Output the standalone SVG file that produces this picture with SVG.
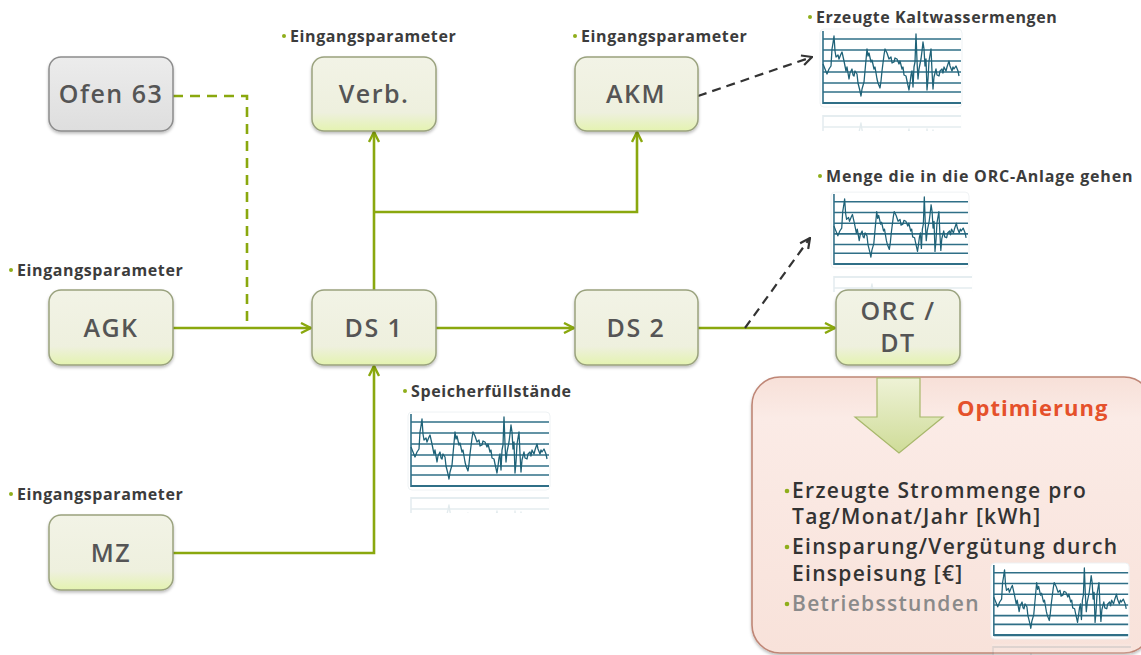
<svg xmlns="http://www.w3.org/2000/svg" xmlns:xlink="http://www.w3.org/1999/xlink" width="1141" height="655" viewBox="0 0 1141 655">
  <defs>
    <style>
      .node rect { stroke-width: 1.5; }
      .box { fill: url(#nodeFill); stroke: #9aa27e; }
      .box-gray { fill: url(#grayFill); stroke: #8c8c8c; }
      .lbl { font-family: "Open Sans", "DejaVu Sans", sans-serif; font-weight: 600; font-size: 25px; fill: #555555; text-anchor: middle; letter-spacing: 1.5px; }
      .cap { font-family: "Open Sans", "DejaVu Sans", sans-serif; font-weight: 700; font-size: 16px; fill: #3c3c3c; letter-spacing: 0.6px; }
      .cap.wide { letter-spacing: 0.8px; }
      .dot { fill: #8fae1b; }
      .flow { fill: none; stroke: #8aa80e; stroke-width: 2.6; }
      .flow-dash { fill: none; stroke: #8aa80e; stroke-width: 2.6; stroke-dasharray: 10 7; }
      .hint { fill: none; stroke: #333333; stroke-width: 2.2; stroke-dasharray: 9 6; }
      .grid { stroke: #2f6f87; stroke-width: 1.6; }
      .series { fill: none; stroke: #1f6278; stroke-width: 1.3; stroke-linejoin: round; }
      .opt-t { font-family: "Open Sans", "DejaVu Sans", sans-serif; font-weight: 600; font-size: 21px; fill: #333333; letter-spacing: 1.3px; }
      .opt-t.muted { fill: #8a8a8a; }
    </style>
    <linearGradient id="nodeFill" x1="0" y1="0" x2="0" y2="1">
      <stop offset="0" stop-color="#f2f3e6"/>
      <stop offset="0.75" stop-color="#eef0de"/>
      <stop offset="1" stop-color="#e4f3b0"/>
    </linearGradient>
    <linearGradient id="grayFill" x1="0" y1="0" x2="0" y2="1">
      <stop offset="0" stop-color="#ececec"/>
      <stop offset="1" stop-color="#dedede"/>
    </linearGradient>
    <linearGradient id="optFill" x1="0" y1="0" x2="0" y2="1">
      <stop offset="0" stop-color="#f7e0d8"/>
      <stop offset="0.15" stop-color="#fbebe6"/>
      <stop offset="1" stop-color="#f8e2da"/>
    </linearGradient>
    <linearGradient id="arrowFill" x1="0" y1="0" x2="0" y2="1">
      <stop offset="0" stop-color="#eef2d6"/>
      <stop offset="1" stop-color="#cfdc98"/>
    </linearGradient>
    <filter id="soft" x="-10%" y="-10%" width="120%" height="130%">
      <feDropShadow dx="0" dy="2" stdDeviation="1.5" flood-color="#000000" flood-opacity="0.25"/>
    </filter>
    <marker id="arrG" viewBox="0 0 12 12" refX="11" refY="6" markerWidth="12" markerHeight="12" markerUnits="userSpaceOnUse" orient="auto">
      <path d="M1,1 L11,6 L1,11" fill="none" stroke="#8aa80e" stroke-width="2.4"/>
    </marker>
    <marker id="arrK" viewBox="0 0 12 12" refX="11" refY="6" markerWidth="12" markerHeight="12" markerUnits="userSpaceOnUse" orient="auto">
      <path d="M1,1 L11,6 L1,11" fill="none" stroke="#333333" stroke-width="2.2"/>
    </marker>
    <!-- small time-series chart -->
    <symbol id="chart" viewBox="0 0 140 75" width="140" height="75" overflow="visible">
      <rect x="-2" y="-2" width="142" height="78" rx="4" fill="#ffffff" stroke="#eef2f4" stroke-width="1"/>
      <g class="grid">
        <line x1="1" y1="8" x2="139" y2="8"/>
        <line x1="1" y1="19" x2="139" y2="19"/>
        <line x1="1" y1="30" x2="139" y2="30"/>
        <line x1="1" y1="41" x2="139" y2="41"/>
        <line x1="1" y1="52" x2="139" y2="52"/>
        <line x1="1" y1="61" x2="139" y2="61"/>
        <line x1="1" y1="72" x2="139" y2="72" stroke-width="2.2"/>
        <line x1="1" y1="0" x2="1" y2="73"/>
      </g>
      <path class="series" d="M1,33 L3,38 L5,43 L7,38 L9,35 L10,18 L11,12 L12,5 L13,20 L14,26 L16,24 L17,28 L19,23 L20,21 L22,30 L24,40 L25,36 L27,48 L28,42 L30,38 L31,44 L32,45 L33,40 L35,43 L36,52 L38,60 L39,65 L40,58 L42,51 L43,40 L45,18 L46,25 L47,22 L49,31 L50,29 L52,38 L53,36 L55,48 L56,52 L58,57 L59,50 L60,40 L62,24 L63,18 L65,22 L67,28 L69,26 L70,32 L72,31 L73,27 L75,28 L77,33 L78,30 L80,38 L81,36 L82,44 L84,45 L85,50 L87,59 L88,52 L89,44 L90,40 L91,56 L92,36 L93,31 L94,3 L95,30 L96,48 L97,38 L99,28 L100,20 L101,11 L102,18 L103,35 L104,28 L105,59 L106,48 L107,30 L109,18 L110,40 L111,58 L112,46 L114,38 L115,44 L117,45 L118,40 L120,38 L121,42 L122,36 L124,40 L125,36 L127,30 L128,35 L130,40 L131,36 L132,38 L134,35 L136,40 L137,45"/>
    </symbol>
    <clipPath id="reflA"><rect x="0" y="0" width="140" height="18"/></clipPath>
  </defs>

  <rect width="1141" height="655" fill="#ffffff"/>

  <!-- optimisation panel -->
  <g id="optimierung">
    <rect x="752" y="377" width="400" height="276" rx="28" fill="url(#optFill)" stroke="#bf8676" stroke-width="1.6" filter="url(#soft)"/>
    <path d="M877,378 L920,378 L920,417 L943,417 L899,453 L855,417 L877,417 Z" fill="url(#arrowFill)" stroke="#a8b86c" stroke-width="1.2"/>
    <text x="957" y="416" font-family="Open Sans, DejaVu Sans, sans-serif" font-weight="700" font-size="22" fill="#e5512b" letter-spacing="1">Optimierung</text>
    <circle class="dot" cx="787" cy="491" r="2.3"/>
    <text class="opt-t" x="792" y="498">Erzeugte Strommenge pro</text>
    <text class="opt-t" x="792" y="524">Tag/Monat/Jahr [kWh]</text>
    <circle class="dot" cx="787" cy="547" r="2.3"/>
    <text class="opt-t" x="792" y="554">Einsparung/Vergütung durch</text>
    <text class="opt-t" x="792" y="581">Einspeisung [€]</text>
    <circle class="dot" cx="787" cy="604" r="2.3"/>
    <text class="opt-t muted" x="792" y="611">Betriebsstunden</text>
  </g>

  <!-- charts with faint reflections -->
  <g id="charts">
    <use xlink:href="#chart" x="822" y="31"/>
    <g opacity="0.12" transform="translate(822,113)" clip-path="url(#reflA)"><use xlink:href="#chart" transform="translate(0,75) scale(1,-1)"/></g>
    <use xlink:href="#chart" x="833" y="193" width="136" height="75"/>
    <g opacity="0.12" transform="translate(833,274)" clip-path="url(#reflA)"><use xlink:href="#chart" transform="translate(0,75) scale(1,-1)"/></g>
    <use xlink:href="#chart" x="410" y="414"/>
    <g opacity="0.12" transform="translate(410,495)" clip-path="url(#reflA)"><use xlink:href="#chart" transform="translate(0,75) scale(1,-1)"/></g>
    <use xlink:href="#chart" x="992" y="565" width="138" height="73"/>
    <g opacity="0.12" transform="translate(992,644)" clip-path="url(#reflA)"><use xlink:href="#chart" transform="translate(0,75) scale(1,-1)"/></g>
  </g>

  <!-- connectors -->
  <g id="connectors">
    <path class="flow-dash" d="M173,96 H247 V328"/>
    <path class="flow" d="M173,328 H311" marker-end="url(#arrG)"/>
    <path class="flow" d="M374,290 V132" marker-end="url(#arrG)"/>
    <path class="flow" d="M374,212 H637 V132" marker-end="url(#arrG)"/>
    <path class="flow" d="M436,328 H574" marker-end="url(#arrG)"/>
    <path class="flow" d="M698,328 H835" marker-end="url(#arrG)"/>
    <path class="flow" d="M173,553 H374 V366" marker-end="url(#arrG)"/>
    <path class="hint" d="M698,96 L812,57" marker-end="url(#arrK)"/>
    <path class="hint" d="M745,328 L810,238" marker-end="url(#arrK)"/>
  </g>

  <!-- captions -->
  <g id="captions">
    <circle class="dot" cx="284" cy="36" r="2"/>
    <text class="cap" x="290" y="42">Eingangsparameter</text>
    <circle class="dot" cx="575" cy="36" r="2"/>
    <text class="cap" x="581" y="42">Eingangsparameter</text>
    <circle class="dot" cx="11" cy="270" r="2"/>
    <text class="cap" x="17" y="276">Eingangsparameter</text>
    <circle class="dot" cx="11" cy="494" r="2"/>
    <text class="cap" x="17" y="500">Eingangsparameter</text>
    <circle class="dot" cx="810" cy="17" r="2"/>
    <text class="cap" x="816" y="23">Erzeugte Kaltwassermengen</text>
    <circle class="dot" cx="820" cy="176" r="2"/>
    <text class="cap wide" x="826" y="182">Menge die in die ORC-Anlage gehen</text>
    <circle class="dot" cx="405" cy="391" r="2"/>
    <text class="cap" x="411" y="397">Speicherfüllstände</text>
  </g>

  <!-- nodes -->
  <g id="ofen63" class="node"><rect class="box-gray" x="49" y="57" width="124" height="74" rx="12" filter="url(#soft)"/><text class="lbl" x="111" y="103">Ofen 63</text></g>
  <g id="verb" class="node"><rect class="box" x="312" y="57" width="124" height="74" rx="12" filter="url(#soft)"/><text class="lbl" x="374" y="103">Verb.</text></g>
  <g id="akm" class="node"><rect class="box" x="575" y="57" width="123" height="74" rx="12" filter="url(#soft)"/><text class="lbl" x="636" y="103">AKM</text></g>
  <g id="agk" class="node"><rect class="box" x="49" y="290" width="124" height="75" rx="12" filter="url(#soft)"/><text class="lbl" x="111" y="337">AGK</text></g>
  <g id="ds1" class="node"><rect class="box" x="312" y="290" width="124" height="75" rx="12" filter="url(#soft)"/><text class="lbl" x="374" y="337">DS 1</text></g>
  <g id="ds2" class="node"><rect class="box" x="575" y="290" width="123" height="75" rx="12" filter="url(#soft)"/><text class="lbl" x="636" y="337">DS 2</text></g>
  <g id="orc" class="node"><rect class="box" x="836" y="290" width="124" height="75" rx="12" filter="url(#soft)"/><text class="lbl" x="898" y="320">ORC /</text><text class="lbl" x="898" y="352">DT</text></g>
  <g id="mz" class="node"><rect class="box" x="49" y="515" width="124" height="75" rx="12" filter="url(#soft)"/><text class="lbl" x="111" y="562">MZ</text></g>
</svg>
